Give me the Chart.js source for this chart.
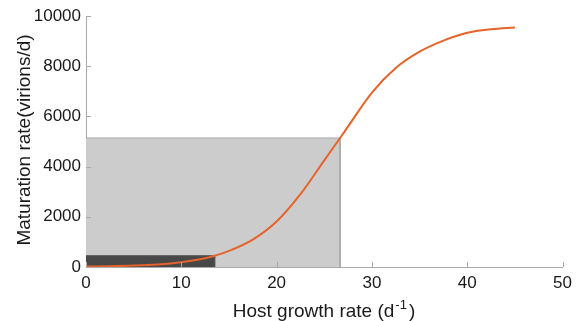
<!DOCTYPE html>
<html>
<head>
<meta charset="utf-8">
<script src="https://cdn.jsdelivr.net/npm/chart.js@4"></script>
<style>
html,body{margin:0;padding:0;background:#fff;}
#wrap{width:578px;height:321px;position:relative;}
</style>
</head>
<body>
<div id="wrap"><canvas id="c" width="578" height="321"></canvas></div>
<script>
// Data
const curveX = [0, 2.5, 5, 7.5, 10, 12.5, 13.5, 15, 17.5, 20, 22.5, 25, 26.66, 27.5, 30, 32.5, 35, 37.5, 40, 42.5, 45];
const curveY = [15, 30, 55, 100, 190, 350, 450, 640, 1090, 1810, 2900, 4250, 5140, 5600, 6950, 7930, 8580, 9020, 9330, 9470, 9540];
const lightRectX = 26.66, lightRectY = 5140;
const darkRectX = 13.5, darkRectY = 450;
const xTicks = [0, 10, 20, 30, 40, 50];
const yTicks = [0, 2000, 4000, 6000, 8000, 10000];
const xTitle = ['Host growth rate (d', '-1', ')'];
const yTitle = 'Maturation rate(virions/d)';

const curve = curveX.map((x, i) => ({x: x, y: curveY[i]}));
const rect = (w, h) => [{x: 0, y: h}, {x: w, y: h}, {x: w, y: 0}];

const FONT = "'Liberation Sans', Arial, sans-serif";
const TXT = '#1a1a1a';
const AXIS = '#a9a9a9';

const tickPlugin = {
  id: 'ticksAndTitles',
  afterDraw(chart) {
    const ctx = chart.ctx, xs = chart.scales.x, ys = chart.scales.y;
    const a = chart.chartArea;
    ctx.save();
    ctx.strokeStyle = AXIS;
    ctx.lineWidth = 1;
    ctx.beginPath();
    yTicks.forEach(v => { const p = Math.round(ys.getPixelForValue(v)) + 0.5; ctx.moveTo(a.left, p); ctx.lineTo(a.left + 5, p); });
    xTicks.forEach(v => { const p = Math.round(xs.getPixelForValue(v)) + 0.5; ctx.moveTo(p, a.bottom); ctx.lineTo(p, a.bottom - 5); });
    ctx.stroke();
    // x title with superscript
    ctx.fillStyle = TXT;
    ctx.textBaseline = 'alphabetic';
    const f1 = '19px ' + FONT, f2 = '13px ' + FONT;
    ctx.font = f1; const w1 = ctx.measureText(xTitle[0]).width; const w3 = ctx.measureText(xTitle[2]).width;
    ctx.font = f2; const w2 = ctx.measureText(xTitle[1]).width;
    const total = w1 + w2 + w3 + 3;
    let x0 = 324 - total / 2;
    const base = 317;
    ctx.font = f1; ctx.textAlign = 'left'; ctx.fillText(xTitle[0], x0, base);
    ctx.font = f2; ctx.fillText(xTitle[1], x0 + w1 + 1, base - 8);
    ctx.font = f1; ctx.fillText(xTitle[2], x0 + w1 + w2 + 3, base);
    // y title
    ctx.translate(30, 140);
    ctx.rotate(-Math.PI / 2);
    ctx.textAlign = 'center';
    ctx.font = f1;
    ctx.fillText(yTitle, 0, 0);
    ctx.restore();
  }
};

new Chart(document.getElementById('c'), {
  type: 'line',
  data: {
    datasets: [
      {data: curve, borderColor: '#e6632b', borderWidth: 2, pointRadius: 0, fill: false, cubicInterpolationMode: 'monotone', order: 0},
      {data: rect(darkRectX, darkRectY), borderColor: '#555555', backgroundColor: '#484848', borderWidth: 1, pointRadius: 0, fill: 'origin', tension: 0, order: 1},
      {data: rect(lightRectX, lightRectY), borderColor: '#a6a6a6', backgroundColor: '#cccccc', borderWidth: 1, pointRadius: 0, fill: 'origin', tension: 0, order: 2}
    ]
  },
  options: {
    responsive: false,
    animation: false,
    devicePixelRatio: 1,
    layout: {padding: {top: 16, right: 14, left: 0, bottom: 0}},
    plugins: {legend: {display: false}, tooltip: {enabled: false}},
    scales: {
      x: {
        type: 'linear', min: 0, max: 50,
        afterBuildTicks(s) { s.ticks = xTicks.map(v => ({value: v})); },
        afterFit(s) { s.height = 54; },
        grid: {display: false, drawTicks: false},
        border: {display: true, color: AXIS, width: 1},
        ticks: {color: TXT, font: {family: FONT, size: 17}, padding: 6, maxRotation: 0, callback: v => String(v)}
      },
      y: {
        type: 'linear', min: 0, max: 10000,
        afterBuildTicks(s) { s.ticks = yTicks.map(v => ({value: v})); },
        afterFit(s) { s.width = 86; },
        grid: {display: false, drawTicks: false},
        border: {display: true, color: AXIS, width: 1},
        ticks: {color: TXT, font: {family: FONT, size: 17}, padding: 5, callback: v => String(v)}
      }
    }
  },
  plugins: [tickPlugin]
});
</script>
</body>
</html>
